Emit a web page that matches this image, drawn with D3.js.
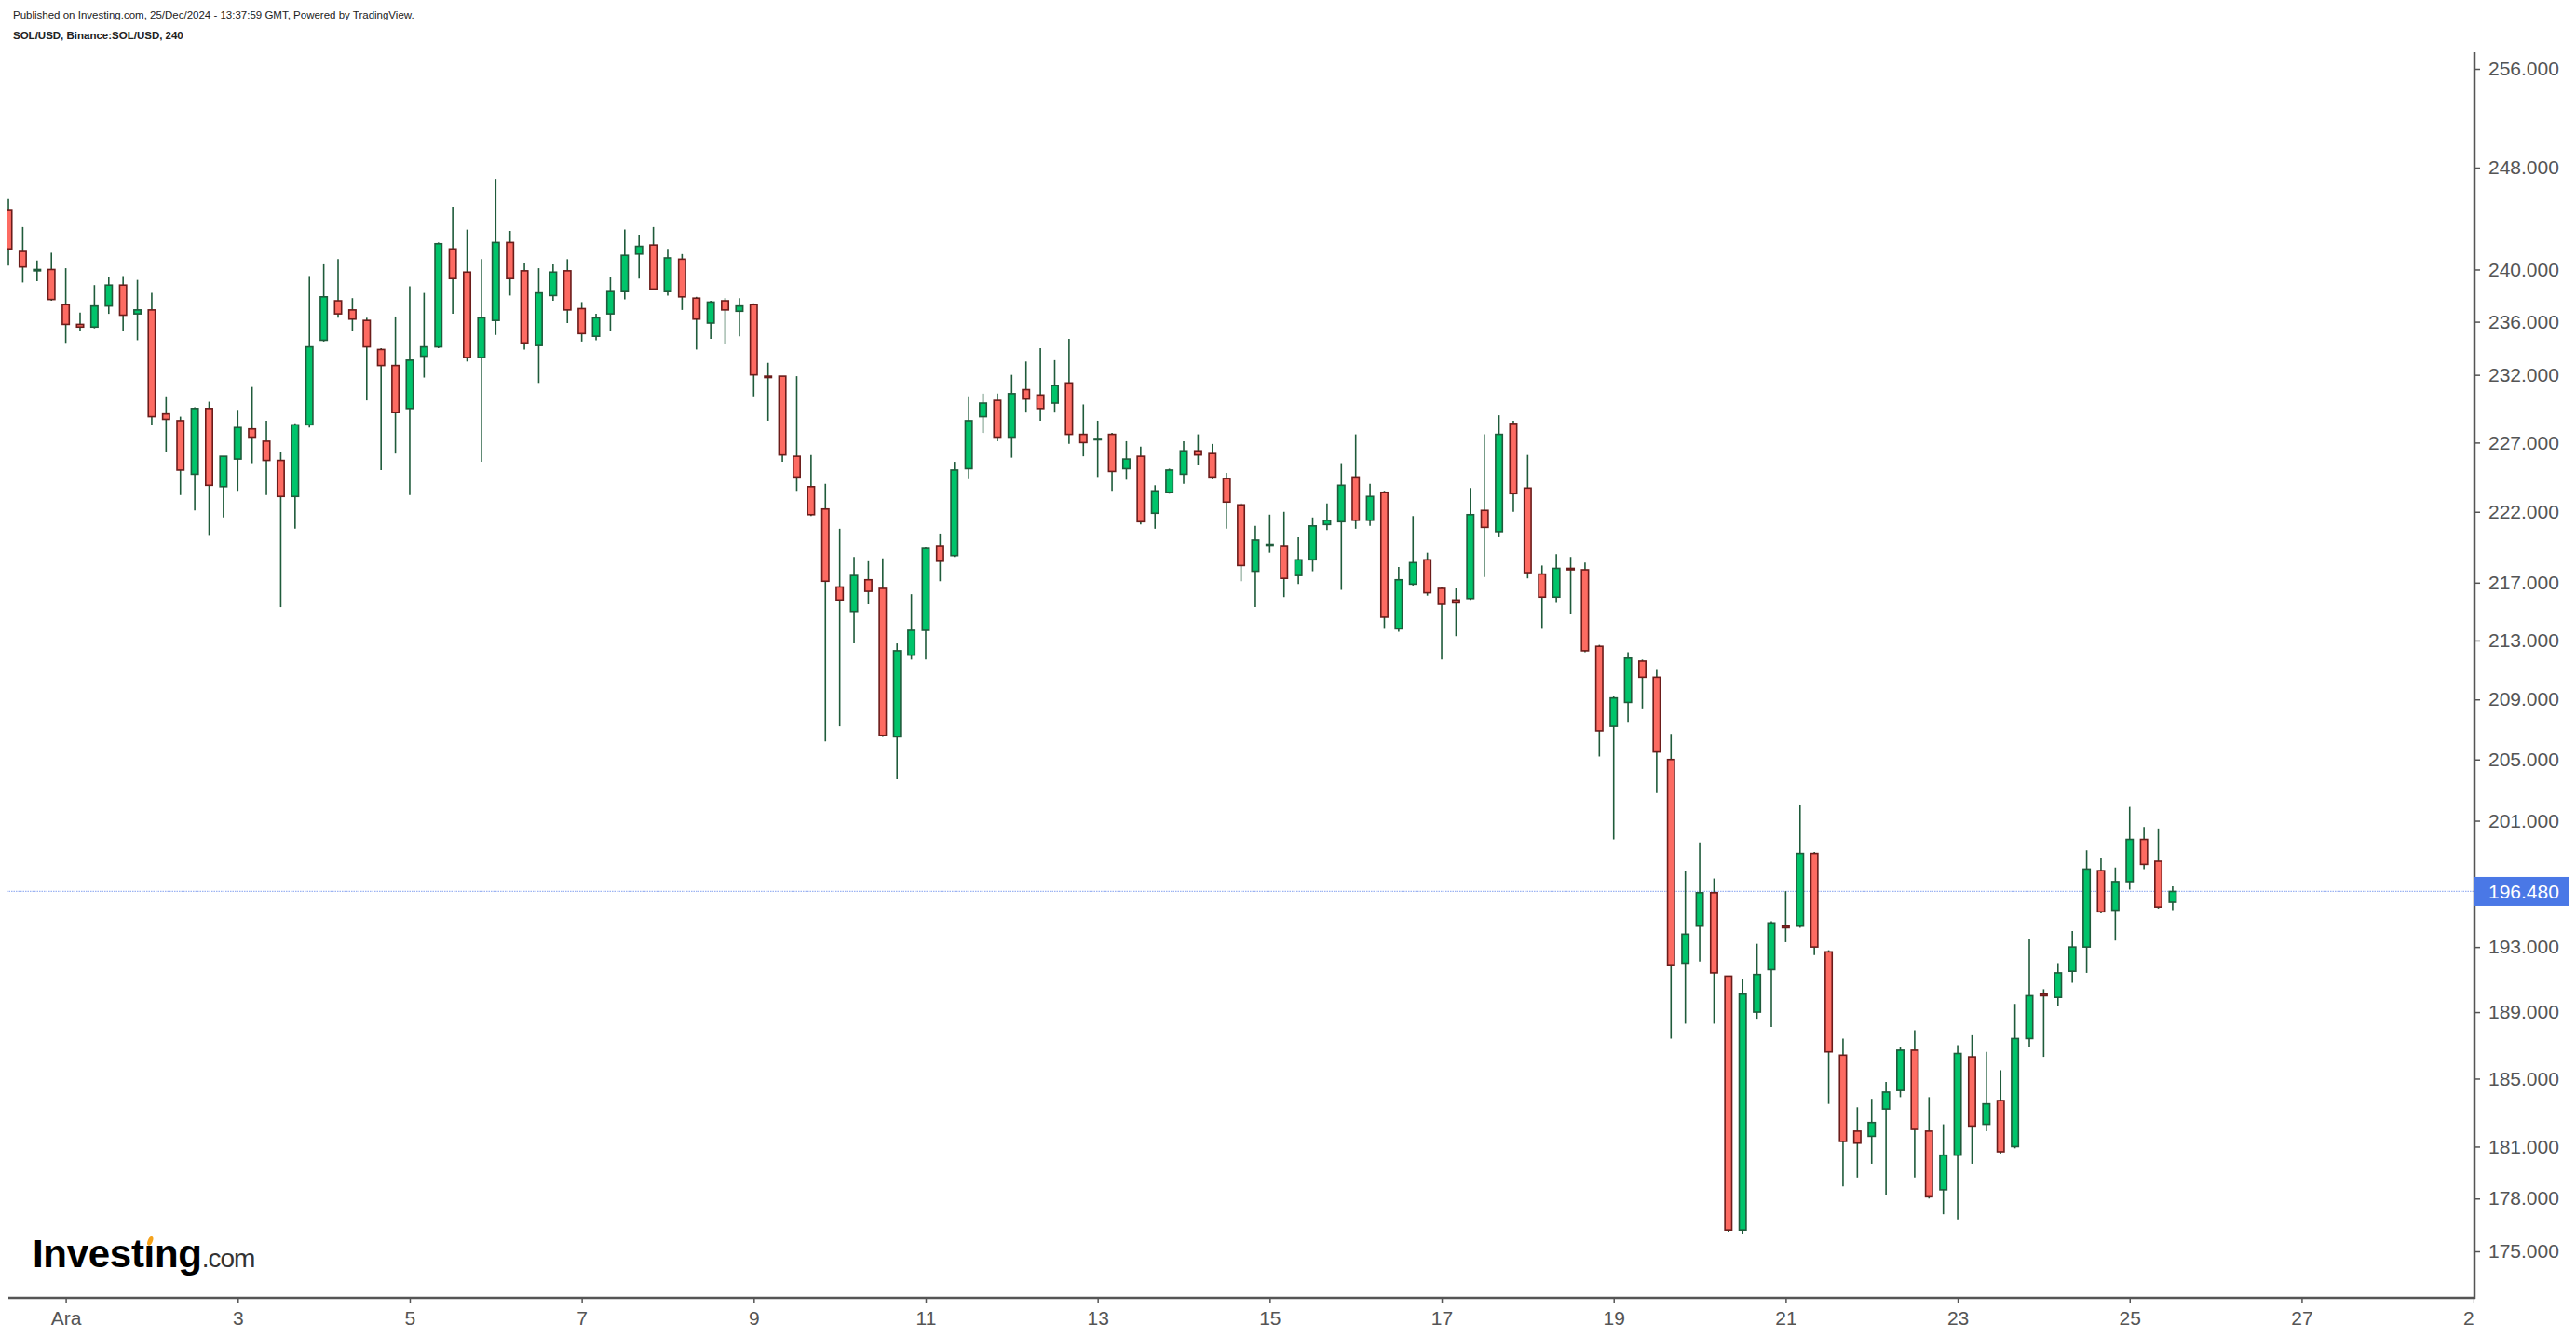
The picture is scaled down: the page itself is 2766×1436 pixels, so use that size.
<!DOCTYPE html>
<html><head><meta charset="utf-8">
<script src="https://cdn.jsdelivr.net/npm/d3@7"></script>
<style>html,body{margin:0;padding:0;background:#fff;overflow:hidden}</style>
</head><body><svg id="c" width="2766" height="1436"></svg>
<script>
// ---------- DATA (SOL/USD 4h candles) ----------
const firstCandle = "2024-11-30T08:00:00Z";
const candleHours = 4;
const opens = [244.6,241.4,239.9,240.0,237.3,235.8,235.6,237.2,238.8,236.6,236.9,229.1,228.6,224.7,229.5,223.8,225.8,228.0,227.1,225.7,
223.1,228.3,234.6,237.6,236.9,236.1,233.9,232.7,229.5,233.4,234.1,241.6,239.8,233.3,236.1,242.1,239.9,234.2,238.0,239.9,
237.0,234.9,236.6,238.3,241.2,241.9,238.3,240.8,237.8,235.9,237.6,236.8,237.3,231.9,231.9,226.0,223.8,222.2,216.7,215.0,
217.2,216.6,206.5,212.0,213.7,219.6,218.9,225.1,228.9,230.1,227.4,230.9,230.5,229.9,231.4,227.6,227.2,227.6,225.1,226.0,
221.9,223.4,224.7,226.4,226.2,224.4,222.5,217.8,219.65,219.6,217.5,218.6,221.1,221.3,224.5,221.4,223.4,213.8,216.9,218.6,
216.6,215.8,215.9,222.1,220.6,228.4,223.7,217.6,216.0,218.0,217.9,212.6,207.2,208.8,211.6,210.5,205.0,192.0,194.3,196.4,
191.2,176.2,189.0,191.6,194.3,194.3,198.9,192.7,186.4,181.9,181.6,183.2,184.3,186.7,181.9,178.5,180.5,186.3,182.3,183.7,
181.0,187.4,190.1,189.9,191.5,193.0,197.8,195.3,197.1,199.8,198.4,195.8];
const highs = [245.5,243.3,240.7,241.3,240.1,236.7,238.8,239.4,239.5,239.2,238.2,230.4,228.9,229.6,230.0,226.0,229.4,231.1,228.6,226.3,
228.4,239.5,240.4,240.8,237.8,236.3,234.0,236.4,238.7,238.2,242.1,244.9,243.1,240.8,247.1,243.0,240.5,240.1,240.4,240.8,
237.5,236.6,239.4,243.1,242.7,243.3,241.6,241.2,237.9,237.6,237.8,237.8,237.4,232.9,231.9,231.9,226.1,224.0,220.8,218.8,
218.5,218.7,212.8,216.2,219.5,220.4,225.6,230.4,230.6,230.6,232.0,233.0,234.0,233.1,234.7,229.8,228.6,227.7,227.1,226.7,
223.9,225.1,227.1,227.6,226.9,224.8,222.6,221.0,221.8,222.0,220.2,221.6,222.6,225.5,227.6,224.0,223.5,218.1,221.7,219.1,
216.7,216.6,223.7,227.6,229.0,228.6,226.1,218.2,219.0,218.8,218.4,212.7,209.2,212.2,211.7,211.0,206.7,197.8,199.6,197.3,
191.2,191.0,193.2,194.6,196.5,202.0,199.0,192.8,187.4,183.3,183.8,184.8,186.9,187.9,183.9,182.3,187.0,187.6,186.6,185.5,
189.5,193.5,190.4,192.0,194.0,199.1,198.6,198.0,201.9,200.6,200.5,196.8];
const lows = [240.3,239.0,239.1,237.6,234.4,235.3,235.5,236.6,235.3,234.6,228.3,226.3,223.2,222.1,220.3,221.6,223.5,225.5,223.2,215.3,
220.8,228.1,234.5,236.3,235.3,230.1,225.0,226.2,223.2,231.8,234.0,236.6,233.0,225.6,235.0,238.0,233.9,231.4,237.6,235.9,
234.5,234.6,235.3,237.7,239.3,238.4,238.0,236.9,233.9,234.7,234.3,234.9,230.4,228.6,225.6,223.5,221.7,206.2,207.2,212.8,
215.5,206.5,203.7,211.7,211.7,217.1,218.8,224.4,227.7,227.1,225.9,229.2,228.6,229.2,226.9,226.0,224.5,223.5,224.3,221.1,
220.8,223.3,224.0,225.4,224.4,220.8,217.1,215.3,219.1,216.0,216.9,217.8,220.7,216.5,220.8,221.0,213.8,213.6,216.8,216.1,
211.7,213.3,215.8,217.4,220.2,222.0,217.3,213.8,215.6,214.8,212.2,205.2,199.8,207.5,208.4,202.8,187.4,188.3,192.1,188.3,
176.1,176.0,188.6,188.1,193.3,194.2,192.5,183.5,178.7,179.2,180.0,178.2,183.9,179.2,178.0,177.1,176.8,180.0,181.9,180.6,
180.9,186.9,186.3,189.4,190.8,191.4,195.1,193.4,196.6,197.9,195.4,195.3];
const closes = [241.6,240.2,240.0,237.7,235.8,235.6,237.2,238.8,236.5,236.9,228.9,228.7,225.0,229.5,223.9,226.0,228.1,227.4,225.7,223.1,
228.3,234.1,237.9,236.6,236.2,234.1,232.7,229.2,233.1,234.1,242.0,239.3,233.3,236.3,242.1,239.3,234.4,238.2,239.8,236.9,
235.1,236.3,238.3,241.1,241.8,238.5,240.9,237.9,236.2,237.5,236.9,237.2,232.0,231.8,226.1,224.5,221.8,217.1,215.8,217.5,
216.4,206.6,212.3,213.7,219.4,218.5,225.0,228.6,229.9,227.4,230.6,230.2,229.5,231.2,227.6,227.0,227.3,224.9,225.8,221.3,
223.5,225.0,226.4,226.1,224.5,222.7,218.2,220.0,219.7,217.3,218.6,221.0,221.4,223.9,221.4,223.1,214.6,217.2,218.4,216.3,
215.5,215.6,221.8,220.9,227.6,223.3,217.7,216.0,218.0,217.9,212.3,206.9,209.1,211.8,210.5,205.5,191.9,193.8,196.4,191.4,
176.2,190.1,191.3,194.5,194.2,198.9,193.0,186.6,181.3,181.2,182.4,184.2,186.7,182.0,178.1,180.5,186.5,182.2,183.5,180.7,
187.4,190.0,190.0,191.4,193.0,197.9,195.2,197.1,199.8,198.2,195.5,196.48];
const yTickValues = [256,248,240,236,232,227,222,217,213,209,205,201,193,189,185,181,178,175];
const xTickDays = [1,3,5,7,9,11,13,15,17,19,21,23,25,27,29];
const xTickLabels = ["Ara","3","5","7","9","11","13","15","17","19","21","23","25","27","29"];
const lastPrice = 196.48;
const headerLine1 = "Published on Investing.com, 25/Dec/2024 - 13:37:59 GMT, Powered by TradingView.";
const headerLine2 = "SOL/USD, Binance:SOL/USD, 240";

// ---------- LAYOUT ----------
const FONT = "'Liberation Sans', Arial, sans-serif";
const plotLeft = 7, plotRight = 2657, plotTop = 56, plotBottom = 1394;
const svg = d3.select("#c");

const x = d3.scaleUtc()
  .domain([new Date(Date.UTC(2024, 11, 1)), new Date(Date.UTC(2024, 11, 29))])
  .range([70.6, 2656.1]);
const y = d3.scaleLog().domain([175, 256]).range([1344, 74]);

const t0 = Date.parse(firstCandle);
const candles = opens.map((o, i) => ({
  t: new Date(t0 + i * candleHours * 3600 * 1000),
  o, h: highs[i], l: lows[i], c: closes[i]
}));

const defs = svg.append("defs");
defs.append("clipPath").attr("id", "plotClip").append("rect")
  .attr("x", plotLeft).attr("y", 0).attr("width", plotRight - plotLeft).attr("height", plotBottom);
defs.append("clipPath").attr("id", "xAxisClip").append("rect")
  .attr("x", 0).attr("y", plotBottom - 2).attr("width", plotRight - 1).attr("height", 60);

// header
svg.append("text").attr("x", 14).attr("y", 20).attr("font-family", FONT).attr("font-size", 11.5)
  .attr("fill", "#222").text(headerLine1);
svg.append("text").attr("x", 14).attr("y", 42).attr("font-family", FONT).attr("font-size", 11.5)
  .attr("font-weight", "bold").attr("fill", "#222").text(headerLine2);

// current price line
svg.append("line").attr("x1", plotLeft).attr("x2", plotRight)
  .attr("y1", y(lastPrice)).attr("y2", y(lastPrice))
  .attr("stroke", "#9cb3f2").attr("stroke-width", 1.3).attr("stroke-dasharray", "1.5,1");

// candles
const UP_FILL = "#00c46b", UP_STROKE = "#1f5b3b", DN_FILL = "#fd6b62", DN_STROKE = "#6b1c1a", WICK = "#1f5b3b";
const g = svg.append("g").attr("clip-path", "url(#plotClip)");
const cg = g.selectAll("g.c").data(candles).join("g").attr("class", "c");
cg.append("line")
  .attr("x1", d => x(d.t)).attr("x2", d => x(d.t))
  .attr("y1", d => y(d.h)).attr("y2", d => y(d.l))
  .attr("stroke", WICK).attr("stroke-width", 1.6);
const bw = 7.4;
cg.append("rect")
  .attr("x", d => x(d.t) - bw / 2).attr("width", bw)
  .attr("y", d => y(Math.max(d.o, d.c)))
  .attr("height", d => Math.max(1, Math.abs(y(d.o) - y(d.c))))
  .attr("fill", d => d.c >= d.o ? UP_FILL : DN_FILL)
  .attr("stroke", d => d.c >= d.o ? UP_STROKE : DN_STROKE)
  .attr("stroke-width", 1.6);

// y axis
const yAxis = svg.append("g").attr("transform", `translate(${plotRight},0)`)
  .call(d3.axisRight(y).tickValues(yTickValues).tickFormat(d3.format(".3f")).tickSize(6).tickPadding(9));
yAxis.select(".domain").remove();
yAxis.selectAll("line").attr("stroke", "#555").attr("stroke-width", 1.5);
yAxis.selectAll("text").attr("font-family", FONT).attr("font-size", 21).attr("fill", "#555");

// x axis (wrapped in an untransformed group so the clip is in page coordinates)
const xWrap = svg.append("g").attr("clip-path", "url(#xAxisClip)");
const xAxis = xWrap.append("g").attr("transform", `translate(0,${plotBottom})`)
  .call(d3.axisBottom(x)
    .tickValues(xTickDays.map(d => new Date(Date.UTC(2024, 11, d))))
    .tickFormat((d, i) => xTickLabels[i]).tickSize(6).tickPadding(8));
xAxis.select(".domain").remove();
xAxis.selectAll("line").attr("stroke", "#555").attr("stroke-width", 1.5);
xAxis.selectAll("text").attr("font-family", FONT).attr("font-size", 21).attr("fill", "#555");

// axis lines
svg.append("line").attr("x1", 9).attr("x2", plotRight + 1).attr("y1", plotBottom).attr("y2", plotBottom)
  .attr("stroke", "#555").attr("stroke-width", 2.5);
svg.append("line").attr("x1", plotRight).attr("x2", plotRight).attr("y1", plotTop).attr("y2", plotBottom + 1)
  .attr("stroke", "#555").attr("stroke-width", 2.5);

// last price label
const yp = y(lastPrice);
svg.append("rect").attr("x", plotRight).attr("y", yp - 15.5).attr("width", 101).attr("height", 31).attr("fill", "#4a78e6");
svg.append("text").attr("x", plotRight + 15).attr("y", yp).attr("dy", "0.36em")
  .attr("font-family", FONT).attr("font-size", 21).attr("fill", "#fff").text(d3.format(".3f")(lastPrice));

// logo (one text element, two tspans)
const logo = svg.append("g");
const inv = logo.append("text").attr("x", 35).attr("y", 1361).attr("font-family", FONT);
inv.append("tspan").attr("font-size", 42).attr("font-weight", "bold").attr("fill", "#000")
  .attr("letter-spacing", -0.3).text("Investing");
inv.append("tspan").attr("font-size", 28).attr("fill", "#333").attr("letter-spacing", -1).text(".com");
try {
  const ext = inv.node().getExtentOfChar(6);
  const cx = ext.x + ext.width / 2;
  logo.append("rect").attr("x", ext.x).attr("y", 1361 - 42 * 0.78).attr("width", ext.width).attr("height", 42 * 0.2).attr("fill", "#fff");
  logo.append("ellipse").attr("cx", cx + 1).attr("cy", 1361 - 42 * 0.67).attr("rx", 2.6).attr("ry", 5.2)
    .attr("transform", `rotate(22,${cx + 1},${1361 - 42 * 0.67})`).attr("fill", "#f5a21b");
} catch (e) {}
</script>
</body></html>
